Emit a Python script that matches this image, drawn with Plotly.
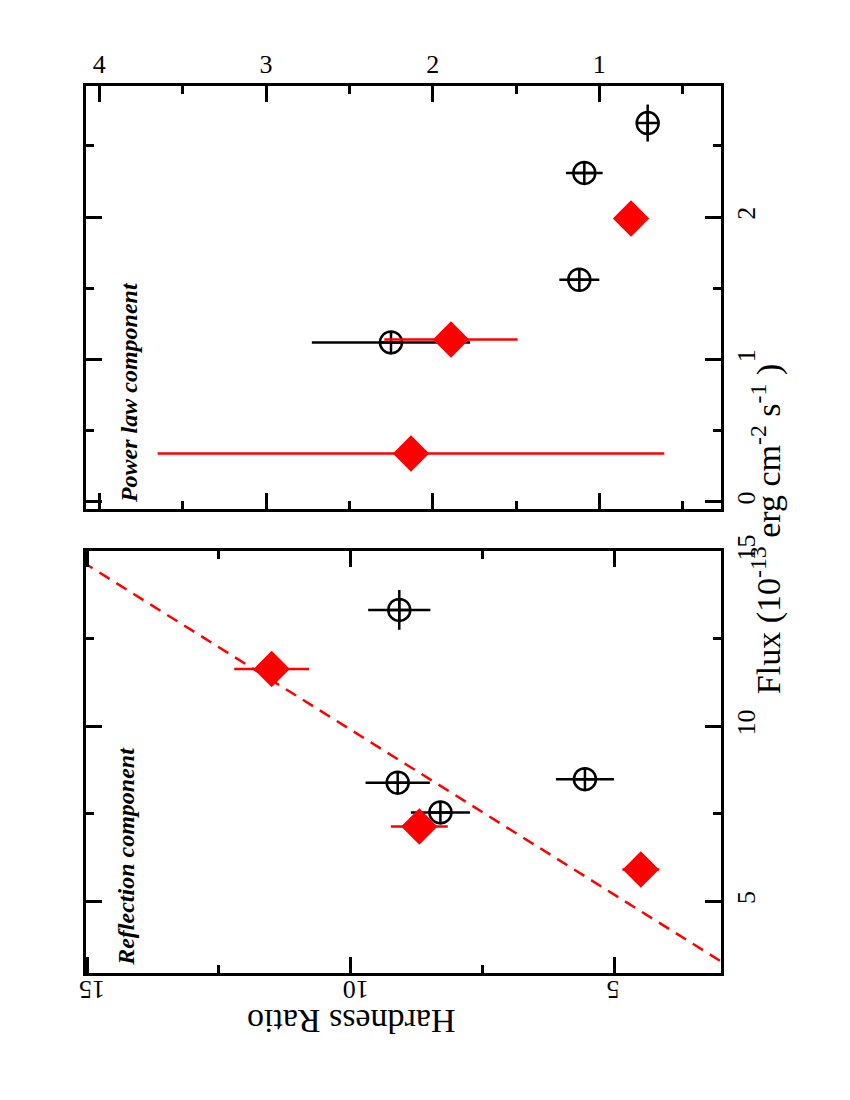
import plotly.graph_objects as go

# power law component (upper panel in the rotated page)
pl_black_hr = [0.71, 1.09, 1.12, 2.25]
pl_black_hr_err = [0.0, 0.11, 0.12, 0.475]
pl_black_flux = [2.66, 2.31, 1.56, 1.12]
pl_black_flux_err = [0.13, 0.0, 0.0, 0.0]

pl_red_hr = [0.81, 1.89, 2.13]
pl_red_hr_err = [0.0, 0.40, 1.52]
pl_red_flux = [1.99, 1.14, 0.34]

# reflection component (lower panel)
rf_black_hr = [9.08, 9.11, 5.56, 8.30]
rf_black_hr_err = [0.59, 0.61, 0.55, 0.56]
rf_black_flux = [13.33, 8.39, 8.49, 7.54]
rf_black_flux_err = [0.57, 0.0, 0.0, 0.0]

rf_red_hr = [11.50, 8.70, 4.50]
rf_red_hr_err = [0.71, 0.54, 0.35]
rf_red_flux = [11.64, 7.14, 5.91]

# dashed linear relation, end points
fit_hr = [3.0, 15.0]
fit_flux = [3.30, 14.62]

FONT = "Liberation Serif"
black_marker = dict(symbol="circle-cross-open", size=22, color="black",
                    line=dict(width=2.5, color="black"))
red_marker = dict(symbol="diamond", size=28, color="red", line=dict(width=0))


def errbar(vals, color):
    return dict(type="data", array=vals, visible=True, width=0,
                thickness=2.5, color=color)


fig = go.Figure()

fig.add_trace(go.Scatter(
    x=pl_black_hr, y=pl_black_flux, mode="markers", marker=black_marker,
    error_x=errbar(pl_black_hr_err, "black"),
    error_y=errbar(pl_black_flux_err, "black"),
    xaxis="x", yaxis="y"))
fig.add_trace(go.Scatter(
    x=pl_red_hr, y=pl_red_flux, mode="markers", marker=red_marker,
    error_x=errbar(pl_red_hr_err, "red"),
    xaxis="x", yaxis="y"))

fig.add_trace(go.Scatter(
    x=fit_hr, y=fit_flux, mode="lines",
    line=dict(color="red", width=2.5, dash="12px,8px"),
    xaxis="x2", yaxis="y2"))
fig.add_trace(go.Scatter(
    x=rf_black_hr, y=rf_black_flux, mode="markers", marker=black_marker,
    error_x=errbar(rf_black_hr_err, "black"),
    error_y=errbar(rf_black_flux_err, "black"),
    xaxis="x2", yaxis="y2"))
fig.add_trace(go.Scatter(
    x=rf_red_hr, y=rf_red_flux, mode="markers", marker=red_marker,
    error_x=errbar(rf_red_hr_err, "red"),
    xaxis="x2", yaxis="y2"))

common = dict(showgrid=False, zeroline=False, showline=True, linecolor="black",
              linewidth=2.5, mirror="allticks", ticks="inside", ticklen=16,
              tickwidth=2.5, tickcolor="black",
              tickfont=dict(family=FONT, size=26, color="black"))
minor_a = dict(ticks="inside", ticklen=8, tickwidth=2.5, tickcolor="black")

fig.update_layout(
    width=850,
    height=1100,
    margin=dict(l=78, r=137, t=78, b=135),
    plot_bgcolor="white",
    paper_bgcolor="white",
    showlegend=False,
    font=dict(family=FONT, color="black"),
    xaxis=dict(common, range=[4.08, 0.27], side="top", dtick=1, tickangle=0,
               anchor="y", domain=[0, 1], minor=dict(minor_a, dtick=0.5)),
    yaxis=dict(common, range=[-0.05, 2.92], side="right", dtick=1,
               tickangle=-90, anchor="x", domain=[0.523, 1],
               minor=dict(minor_a, dtick=0.5)),
    xaxis2=dict(common, range=[15.02, 2.98], side="bottom", dtick=5,
                tickangle=180, anchor="y2", domain=[0, 1], ticklabelshift=8,
                minor=dict(minor_a, dtick=2.5)),
    yaxis2=dict(common, range=[2.95, 15.02], side="right", dtick=5,
                tickangle=-90, anchor="x2", domain=[0, 0.476],
                minor=dict(minor_a, dtick=2.5)),
    annotations=[
        dict(text="Hardness Ratio", x=0.417, y=-0.054, xref="paper",
             yref="paper", showarrow=False, textangle=180,
             xanchor="center", yanchor="middle",
             font=dict(family=FONT, size=34)),
        dict(text="Flux (10<sup>-13</sup> erg cm<sup>-2</sup> s<sup>-1</sup> )",
             x=1.072, y=0.5, xref="paper", yref="paper", showarrow=False,
             textangle=-90, xanchor="center", yanchor="middle",
             font=dict(family=FONT, size=34)),
        dict(text="<b><i>Power law component</i></b>", x=0.068, y=0.654,
             xref="paper", yref="paper", showarrow=False, textangle=-90,
             xanchor="center", yanchor="middle",
             font=dict(family=FONT, size=24)),
        dict(text="<b><i>Reflection component</i></b>", x=0.063, y=0.131,
             xref="paper", yref="paper", showarrow=False, textangle=-90,
             xanchor="center", yanchor="middle",
             font=dict(family=FONT, size=24)),
    ],
)

fig.write_html("out.html")
